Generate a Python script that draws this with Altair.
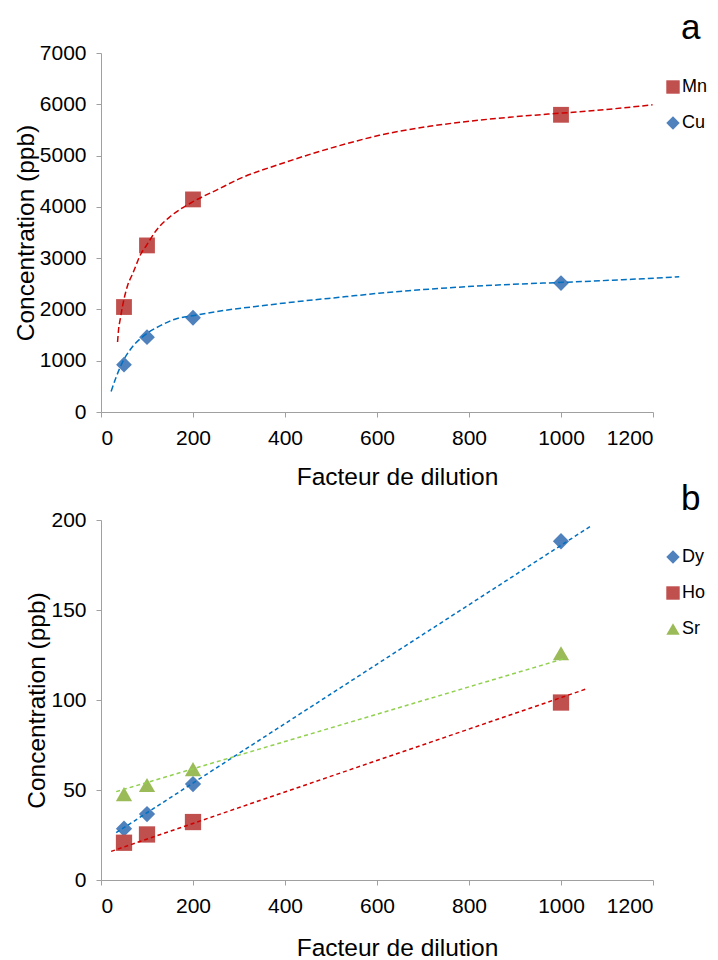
import altair as alt
import pandas as pd

FONT = "Liberation Sans"
GRAY = "#A0A0A0"
RED = "#C0504D"
BLUE = "#4F81BD"
GREEN = "#9BBB59"
TR_RED = "#D00000"
TR_BLUE = "#0070C0"
TR_GREEN = "#92D050"

# ---- data ----
dilution = [50, 100, 200, 1000]
mn = [2047, 3248, 4145, 5795]
cu = [922, 1459, 1838, 2514]
dy = [28.5, 36.6, 53.3, 188.2]
ho = [20.7, 25.3, 32.2, 98.6]
sr = [47.7, 52.8, 61.6, 126.0]

mn_trend_x = [36, 38, 42, 51, 58, 69, 87, 99, 120, 152, 196, 254, 304, 388, 460, 533, 605, 714, 822, 931, 1004, 1112, 1199]
mn_trend_y = [1364, 1590, 1820, 2240, 2470, 2700, 3086, 3250, 3540, 3821, 4080, 4340, 4560, 4830, 5040, 5230, 5395, 5570, 5690, 5780, 5830, 5910, 5990]
cu_trend_x = [22, 33, 47, 65, 94, 130, 159, 203, 275, 348, 404, 533, 604, 807, 1007, 1112, 1257]
cu_trend_y = [402, 682, 975, 1234, 1493, 1688, 1805, 1883, 1990, 2070, 2130, 2250, 2315, 2450, 2530, 2570, 2635]
dy_trend_x = [33, 1064]
dy_trend_y = [26.3, 196.5]
ho_trend_x = [22, 1058]
ho_trend_y = [15.9, 106.4]
sr_trend_x = [33, 1011]
sr_trend_y = [49.1, 123.3]

x_ticks = [0, 200, 400, 600, 800, 1000, 1200]
top_y_ticks = [0, 1000, 2000, 3000, 4000, 5000, 6000, 7000]
bot_y_ticks = [0, 50, 100, 150, 200]
panel_labels = ["a", "b"]

top_series = ["Mn", "Cu"]
bot_series = ["Dy", "Ho", "Sr"]

top_pts = pd.DataFrame({"series": ["Mn"] * 4 + ["Cu"] * 4, "x": dilution * 2, "y": mn + cu})
top_tr = pd.DataFrame({
    "series": ["Mn"] * len(mn_trend_x) + ["Cu"] * len(cu_trend_x),
    "x": mn_trend_x + cu_trend_x,
    "y": mn_trend_y + cu_trend_y,
})
bot_pts = pd.DataFrame({"series": ["Dy"] * 4 + ["Ho"] * 4 + ["Sr"] * 4,
                        "x": dilution * 3, "y": dy + ho + sr})
bot_tr = pd.DataFrame({
    "series": ["Dy"] * 2 + ["Ho"] * 2 + ["Sr"] * 2,
    "x": dy_trend_x + ho_trend_x + sr_trend_x,
    "y": dy_trend_y + ho_trend_y + sr_trend_y,
})

x_scale = alt.Scale(domain=[0, 1200], nice=False)


def x_axis(title_pad):
    return alt.Axis(values=x_ticks, title="Facteur de dilution", titleX=296,
                    labelPadding=10, titlePadding=title_pad, format="d")


def y_axis(ticks):
    return alt.Axis(values=ticks, title="Concentration (ppb)", labelPadding=10,
                    titlePadding=1, format="d")


def panel(pts, tr, series, colors, shapes, tr_colors, ymax, yticks, height,
          leg_y, letter, letter_y, dash, msize, title_pad):
    leg = alt.Legend(title=None, orient="none", legendX=563, legendY=leg_y)
    p = alt.Chart(pts).mark_point(filled=True, opacity=1, size=msize, strokeWidth=0).encode(
        x=alt.X("x:Q", scale=x_scale, axis=x_axis(title_pad)),
        y=alt.Y("y:Q", scale=alt.Scale(domain=[0, ymax], nice=False), axis=y_axis(yticks)),
        color=alt.Color("series:N", scale=alt.Scale(domain=series, range=colors), legend=leg,
                        sort=series),
        shape=alt.Shape("series:N", scale=alt.Scale(domain=series, range=shapes), legend=leg,
                        sort=series),
    )
    t = alt.Chart(tr).mark_line(strokeDash=dash, strokeWidth=1.5, interpolate="monotone").encode(
        x=alt.X("x:Q", scale=x_scale),
        y=alt.Y("y:Q", scale=alt.Scale(domain=[0, ymax], nice=False)),
        stroke=alt.Stroke("series:N", scale=alt.Scale(domain=series, range=tr_colors), legend=None),
    )
    lab = alt.Chart(pd.DataFrame({"label": [letter]})).mark_text(
        font=FONT, fontSize=35, align="left", baseline="alphabetic", color="black"
    ).encode(x=alt.value(580), y=alt.value(letter_y), text="label:N")
    return alt.layer(p, t, lab).properties(width=552, height=height)


top = panel(top_pts, top_tr, top_series, [RED, BLUE], ["square", "diamond"],
            [TR_RED, TR_BLUE], 7000, top_y_ticks, 359, 25, panel_labels[0], -14, [6, 3], 250, 17)
bottom = panel(bot_pts, bot_tr, bot_series, [BLUE, RED, GREEN], ["diamond", "square", "triangle-up"],
               [TR_BLUE, TR_RED, TR_GREEN], 200, bot_y_ticks, 360, 28, panel_labels[1], -10, [4, 3], 265, 20)

chart = alt.vconcat(top, bottom, spacing=108, bounds="flush").resolve_scale(
    x="independent", y="independent", color="independent", shape="independent", stroke="independent"
).properties(
    padding={"left": 5, "top": 3, "right": 0, "bottom": 0}
).configure_view(stroke=None).configure_axis(
    grid=False, domainColor=GRAY, tickColor=GRAY, tickSize=5,
    labelFont=FONT, labelFontSize=21, labelColor="black",
    titleFont=FONT, titleFontSize=24.5, titleFontWeight="normal", titleColor="black",
).configure_legend(
    labelFont=FONT, labelFontSize=18, labelColor="black", symbolSize=180,
    rowPadding=18, labelOffset=0, symbolStrokeWidth=0, padding=0,
)

chart.save("out.html", embed_options={"renderer": "svg", "actions": False})
